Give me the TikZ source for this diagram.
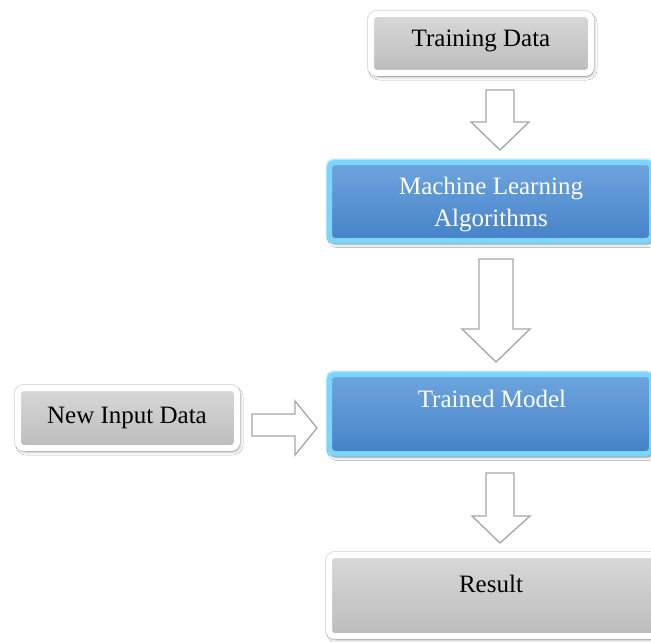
\documentclass[tikz,border=0pt]{standalone}
\usepackage{fontspec}
\setmainfont{Liberation Serif}
\usetikzlibrary{shadows.blur}
\definecolor{gtop}{HTML}{D8D8D8}
\definecolor{gbot}{HTML}{BCBCBC}
\definecolor{btop}{HTML}{6EA5DE}
\definecolor{bbot}{HTML}{4682C8}
\definecolor{glowc}{HTML}{7DD5FC}
\definecolor{arrc}{HTML}{A6A6A6}
\tikzset{
  shad/.style={blur shadow={shadow xshift=2pt, shadow yshift=-3pt, shadow blur steps=8, shadow blur radius=4pt, shadow opacity=40}},
  graybox/.style={preaction={draw=black!13, line width=8pt}, draw=white, line width=6pt, rounded corners=6pt, top color=gtop, bottom color=gbot, shad, inner sep=0pt},
  bluebox/.style={preaction={draw=glowc!60, line width=8pt}, draw=glowc, line width=5pt, rounded corners=5pt, top color=btop, bottom color=bbot, shad, inner sep=0pt},
  lbl/.style={font=\fontsize{25}{32}\selectfont, align=center, inner sep=0pt},
  blk/.style={draw=arrc, fill=white, line width=1.3pt, line join=miter}
}
\begin{document}
\begin{tikzpicture}[x=1pt,y=-1pt]
\clip (0,0) rectangle (651,642);
\fill[white] (0,0) rectangle (651,642);

% boxes
\node[graybox, minimum width=220pt, minimum height=59pt] (td) at (481,43.5) {};
\node[bluebox, minimum width=322pt, minimum height=78pt] (ml) at (490.5,201.5) {};
\node[bluebox, minimum width=322pt, minimum height=79pt] (tm) at (490.5,414) {};
\node[graybox, minimum width=219pt, minimum height=60pt] (ni) at (127.5,418) {};
\node[graybox, minimum width=328pt, minimum height=81pt] (res) at (493,595.5) {};

% texts
\node[lbl, anchor=base] (tdt) at (481,47) {Training Data};
\node[lbl, text=white] (mlt) at (491,205) {Machine Learning\\Algorithms};
\node[lbl, text=white, anchor=base] (tmt) at (492,407) {Trained Model};
\node[lbl, anchor=base] (nit) at (127,423) {New Input Data};
\node[lbl, anchor=base] (rest) at (491,592) {Result};

% block arrows
\draw[blk] (486,90) -- (514,90) -- (514,122) -- (529,122) -- (500,150) -- (471,122) -- (486,122) -- cycle;
\draw[blk] (479,259) -- (513,259) -- (513,329) -- (530,329) -- (496,362) -- (462,329) -- (479,329) -- cycle;
\draw[blk] (252,414) -- (295,414) -- (295,401) -- (317,428) -- (295,455) -- (295,436) -- (252,436) -- cycle;
\draw[blk] (486,473) -- (514,473) -- (514,516) -- (530,516) -- (500,543) -- (472,516) -- (486,516) -- cycle;
\end{tikzpicture}
\end{document}
